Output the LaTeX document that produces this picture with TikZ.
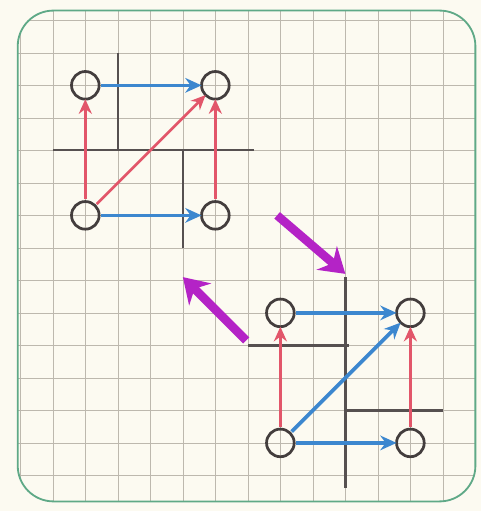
\documentclass[tikz,border=0pt]{standalone}
\usepackage{xcolor}
\usepackage{tikz}
\usetikzlibrary{arrows.meta, positioning, calc}

\definecolor{paper}{HTML}{FCFAF1}
\definecolor{gridgray}{HTML}{BDB8AE}
\definecolor{ink}{HTML}{433D3D}
\definecolor{pencilred}{HTML}{E2566A}
\definecolor{pencilblue}{HTML}{3C87CF}
\definecolor{pencilpurple}{HTML}{B423C6}
\definecolor{pencilgreen}{HTML}{5FA987}

\begin{document}
\begin{tikzpicture}[
    x=1cm, y=-1cm,
    node distance=4cm, on grid,
    dot/.style={draw=ink, circle, line width=2.4pt, minimum size=0.85cm, inner sep=0pt, outer sep=0pt},
    redarrow/.style={-{Stealth[length=0.45cm, width=0.4cm]}, line width=2.4pt, draw=pencilred, shorten <=2pt},
    bluearrow/.style={-{Stealth[length=0.5cm, width=0.45cm]}, line width=3.2pt, draw=pencilblue, shorten <=2pt},
    bigarrow/.style={-{Stealth[length=0.75cm, width=0.95cm]}, line width=7.5pt, draw=pencilpurple},
    axis/.style={draw=ink!90, line width=2pt},
    gridline/.style={draw=gridgray, line width=0.55pt}
]
\useasboundingbox (-0.625,-0.625) rectangle (14.175,15.095);
\fill[paper] (-0.625,-0.625) rectangle (14.175,15.095);

% Squared paper inside the frame
\begin{scope}
  \clip[rounded corners=1.1cm] (-0.08,-0.3) rectangle (14.0,14.8);
  \foreach \i in {-1,...,15} \draw[gridline] (\i,-1) -- (\i,16);
  \foreach \j in {-1,...,16} \draw[gridline] (-1,\j) -- (15,\j);
\end{scope}
\draw[pencilgreen, line width=1.6pt, rounded corners=1.1cm] (-0.08,-0.3) rectangle (14.0,14.8);

% Upper square
\node[dot] (up-a) at (2,2) {};
\node[dot, right=of up-a] (up-b) {};
\node[dot, below=of up-a] (up-c) {};
\node[dot, right=of up-c] (up-d) {};

\draw[axis] (3,1) -- (3,4);
\draw[axis] (1,4) -- (7.2,4);
\draw[axis] (5,4) -- (5,7);

\draw[bluearrow] (up-a) -- (up-b);
\draw[bluearrow] (up-c) -- (up-d);
\draw[redarrow] (up-c) -- (up-a);
\draw[redarrow] (up-d) -- (up-b);
\draw[redarrow] (up-c) -- (up-b);

% Lower square
\node[dot] (lo-a) at (8,9) {};
\node[dot, right=of lo-a] (lo-b) {};
\node[dot, below=of lo-a] (lo-c) {};
\node[dot, right=of lo-c] (lo-d) {};

\draw[axis] (7,10) -- (10.1,10);
\draw[axis] (10,7.9) -- (10,14.4);
\draw[axis] (10,12) -- (13,12);

\draw[bluearrow] (lo-a) -- (lo-b);
\draw[bluearrow] (lo-c) -- (lo-d);
\draw[redarrow] (lo-c) -- (lo-a);
\draw[redarrow] (lo-d) -- (lo-b);
\draw[bluearrow] (lo-c) -- (lo-b);

% Moves between the two
\coordinate (down-from) at (7.9,6.0);
\coordinate (down-to) at (10.0,7.8);
\coordinate (up-from) at (6.95,9.85);
\coordinate (up-to) at (5.0,7.9);
\draw[bigarrow] (down-from) -- (down-to);
\draw[bigarrow] (up-from) -- (up-to);
\end{tikzpicture}
\end{document}
